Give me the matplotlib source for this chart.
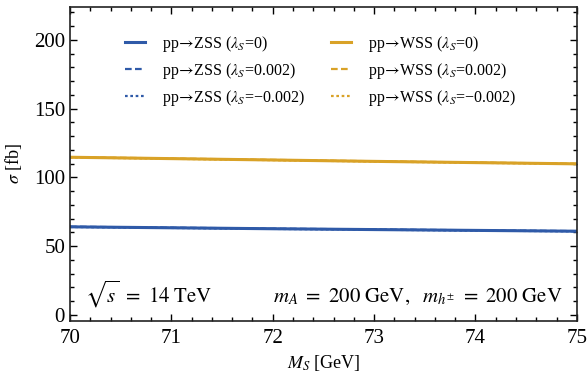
import numpy as np
import matplotlib
matplotlib.use("Agg")
import matplotlib.pyplot as plt
from matplotlib.ticker import MultipleLocator

plt.rcParams['font.family'] = ['Liberation Serif', 'DejaVu Serif']
plt.rcParams['mathtext.fontset'] = 'stix'

ms = [70, 71, 72, 73, 74, 75]
zss_0 = [64.0, 63.3, 62.6, 62.0, 61.4, 60.8]
zss_p = [64.1, 63.4, 62.7, 62.1, 61.5, 60.9]
zss_m = [63.9, 63.2, 62.5, 61.9, 61.3, 60.7]
wss_0 = [114.6, 113.6, 112.6, 111.6, 110.7, 109.8]
wss_p = [114.7, 113.7, 112.7, 111.7, 110.8, 109.9]
wss_m = [114.5, 113.5, 112.5, 111.5, 110.6, 109.7]

blue = "#2f5aa8"
orange = "#d9a227"

arrow = r"$\!\rightarrow\!$"

fig = plt.figure(figsize=(5.88, 3.79), dpi=100)
ax = fig.add_axes([0.119, 0.153, 0.862, 0.829])

ax.plot(ms, zss_0, color=blue, lw=2.2, label="pp" + arrow + "ZSS ($\\lambda_S$=0)")
ax.plot(ms, zss_p, color=blue, lw=1.6, ls=(0, (3, 1.5)), label="pp" + arrow + "ZSS ($\\lambda_S$=0.002)")
ax.plot(ms, zss_m, color=blue, lw=1.6, ls=(0, (1.2, 1.2)), label="pp" + arrow + "ZSS ($\\lambda_S$=−0.002)")
ax.plot(ms, wss_0, color=orange, lw=2.2, label="pp" + arrow + "WSS ($\\lambda_S$=0)")
ax.plot(ms, wss_p, color=orange, lw=1.6, ls=(0, (3, 1.5)), label="pp" + arrow + "WSS ($\\lambda_S$=0.002)")
ax.plot(ms, wss_m, color=orange, lw=1.6, ls=(0, (1.2, 1.2)), label="pp" + arrow + "WSS ($\\lambda_S$=−0.002)")

ax.set_xlim(70, 75)
ax.set_ylim(-4.5, 224)
ax.xaxis.set_major_locator(MultipleLocator(1))
ax.xaxis.set_minor_locator(MultipleLocator(0.2))
ax.yaxis.set_major_locator(MultipleLocator(50))
ax.yaxis.set_minor_locator(MultipleLocator(10))
ax.tick_params(which='both', direction='in', top=True, right=True, labelsize=15, width=1)
ax.tick_params(which='major', length=5)
ax.tick_params(which='minor', length=3)
ax.tick_params(axis='x', pad=6)
for s in ax.spines.values():
    s.set_linewidth(1.2)
    s.set_color("#222222")

ax.set_xlabel(r"$M_S$ [GeV]", fontsize=13, labelpad=3)
ax.set_ylabel(r"$\sigma$ [fb]", fontsize=13, labelpad=7)

ax.legend(ncol=2, loc='upper left', bbox_to_anchor=(0.108, 0.915), frameon=False,
          borderaxespad=0, borderpad=0,
          fontsize=11.5, handlelength=1.25, handletextpad=1.1, columnspacing=1.6,
          labelspacing=0.45)

ax.text(0.03, 0.06, r"$\sqrt{s}\ =\ 14\ \mathrm{TeV}$", transform=ax.transAxes, fontsize=15)
ax.text(0.972, 0.06, r"$m_A\ =\ 200\ \mathrm{GeV},\ \ m_{h^{\pm}}\ =\ 200\ \mathrm{GeV}$",
        transform=ax.transAxes, fontsize=15, ha='right')

fig.savefig("out.png", dpi=100)
